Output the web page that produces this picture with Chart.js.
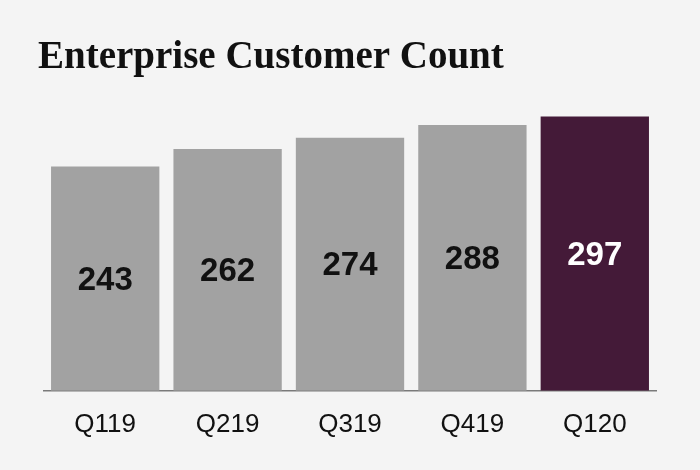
<!DOCTYPE html>
<html>
<head>
<meta charset="utf-8">
<script src="https://cdn.jsdelivr.net/npm/chart.js@4.4.0/dist/chart.umd.min.js"></script>
<style>
  html, body { margin: 0; padding: 0; background: #f4f4f4; }
  #wrap { width: 700px; height: 470px; }
</style>
</head>
<body>
<div id="wrap"><canvas id="customerChart"></canvas></div>
<script>
  const quarters = ['Q119', 'Q219', 'Q319', 'Q419', 'Q120'];
  const customerCounts = [243, 262, 274, 288, 297];
  const barColors = ['#a2a2a2', '#a2a2a2', '#a2a2a2', '#a2a2a2', '#441a38'];
  const labelColors = ['#111111', '#111111', '#111111', '#111111', '#ffffff'];

  // writes the value in the middle of each bar
  const valueLabels = {
    id: 'valueLabels',
    afterDatasetsDraw(chart) {
      const ctx = chart.ctx;
      const meta = chart.getDatasetMeta(0);
      ctx.save();
      ctx.font = 'bold 33px "Liberation Sans", Arial, sans-serif';
      ctx.textAlign = 'center';
      ctx.textBaseline = 'middle';
      meta.data.forEach((bar, i) => {
        ctx.fillStyle = labelColors[i];
        ctx.fillText(customerCounts[i], bar.x, (bar.y + bar.base) / 2 + 2);
      });
      ctx.restore();
    }
  };

  const chartElement = document.getElementById('customerChart');
  const customerChart = new Chart(chartElement, {
    type: 'bar',
    data: {
      labels: quarters,
      datasets: [
        {
          data: customerCounts,
          backgroundColor: barColors,
          borderWidth: 0,
          categoryPercentage: 1,
          barPercentage: 0.885
        }
      ]
    },
    options: {
      responsive: true,
      maintainAspectRatio: false,
      animation: false,
      layout: {
        padding: { left: 38, right: 44, top: 0, bottom: 12 }
      },
      scales: {
        x: {
          grid: { display: false, drawTicks: false },
          border: { display: true, color: '#7a7a7a', width: 1.5 },
          ticks: {
            color: '#111111',
            padding: 18,
            font: { family: '"Liberation Sans", Arial, sans-serif', size: 26 }
          }
        },
        y: {
          min: 0,
          max: 300,
          grid: { display: false },
          border: { display: false },
          ticks: { display: false },
          afterFit: (scale) => { scale.width = 6; }
        }
      },
      plugins: {
        legend: { display: false },
        tooltip: { enabled: false },
        title: {
          display: true,
          text: 'Enterprise Customer Count',
          align: 'start',
          color: '#111111',
          font: { family: '"Liberation Serif", "DejaVu Serif", serif', size: 39, weight: 'bold', lineHeight: 1.2 },
          padding: { top: 35, bottom: 32 }
        }
      }
    },
    plugins: [valueLabels]
  });
</script>
</body>
</html>
